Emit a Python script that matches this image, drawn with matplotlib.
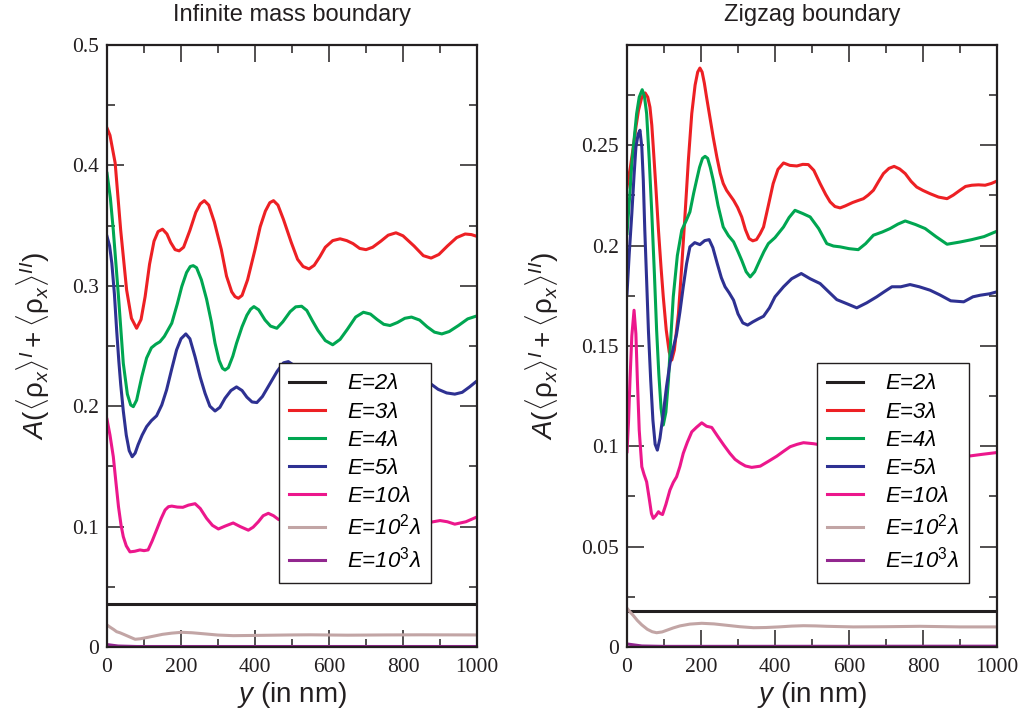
import numpy as np
import matplotlib
matplotlib.use("Agg")
from matplotlib import pyplot as plt
from matplotlib.ticker import MultipleLocator

plt.rcParams['font.family'] = ['Liberation Sans', 'DejaVu Sans']
plt.rcParams['mathtext.fontset'] = 'custom'
plt.rcParams['mathtext.rm'] = 'Liberation Sans'
plt.rcParams['mathtext.it'] = 'Liberation Sans:italic'
plt.rcParams['mathtext.bf'] = 'Liberation Sans:bold'

# Legend labels and colours, shared by both panels
labels = ['E=2λ', 'E=3λ', 'E=4λ', 'E=5λ', 'E=10λ', 'E=10$^2$λ', 'E=10$^3$λ']
colors = ['#231f20', '#ed2024', '#00a651', '#2e3192', '#ec178c', '#c2a5a5', '#92278f']

# ---- Infinite mass boundary (left panel)
inf_x_2 = [0, 1000]
inf_y_2 = [0.0354, 0.0354]
inf_x_3 = [0, 8, 22, 37, 53, 66, 80, 92, 103, 115, 127, 138, 150, 162, 172, 184, 195, 207, 224,
           240, 252, 263, 275, 290, 309, 323, 337, 346, 355, 365, 380, 400, 414, 428, 440, 450,
           462, 477, 498, 515, 530, 546, 560, 575, 590, 610, 630, 648, 665, 683, 700, 718, 740,
           760, 781, 800, 830, 855, 876, 897, 920, 945, 968, 985, 1000]
inf_y_3 = [0.431, 0.425, 0.402, 0.346, 0.2965, 0.273, 0.2647, 0.272, 0.291, 0.318, 0.337, 0.345,
           0.347, 0.343, 0.336, 0.330, 0.329, 0.332, 0.346, 0.361, 0.368, 0.3707, 0.367, 0.353,
           0.330, 0.308, 0.295, 0.291, 0.2896, 0.292, 0.305, 0.330, 0.349, 0.362, 0.369, 0.3707,
           0.367, 0.355, 0.336, 0.322, 0.316, 0.314, 0.317, 0.324, 0.332, 0.3375, 0.339, 0.3375,
           0.335, 0.331, 0.330, 0.332, 0.337, 0.342, 0.344, 0.3415, 0.333, 0.325, 0.323, 0.326,
           0.333, 0.340, 0.343, 0.3425, 0.341]
inf_x_4 = [0, 9, 17, 31, 44, 55, 64, 71, 80, 94, 107, 120, 132, 143, 155, 175, 190, 202, 215,
           225, 233, 242, 255, 269, 282, 292, 303, 312, 319, 328, 340, 350, 365, 378, 388, 397,
           410, 427, 442, 459, 475, 495, 510, 526, 540, 555, 570, 590, 610, 630, 650, 672, 693,
           712, 730, 748, 765, 785, 805, 823, 845, 865, 885, 905, 925, 950, 975, 1000]
inf_y_4 = [0.3934, 0.373, 0.346, 0.291, 0.2356, 0.210, 0.201, 0.1996, 0.205, 0.2245, 0.240,
           0.2485, 0.2515, 0.2535, 0.258, 0.2689, 0.285, 0.2993, 0.311, 0.316, 0.3167, 0.315,
           0.305, 0.289, 0.270, 0.2522, 0.238, 0.2315, 0.230, 0.232, 0.2415, 0.2522, 0.266,
           0.2755, 0.2805, 0.2827, 0.280, 0.2716, 0.2665, 0.2647, 0.270, 0.2785, 0.2825, 0.283,
           0.2795, 0.271, 0.263, 0.2545, 0.251, 0.2555, 0.264, 0.274, 0.278, 0.2765, 0.272,
           0.268, 0.267, 0.2695, 0.273, 0.274, 0.2715, 0.266, 0.2615, 0.260, 0.262, 0.267,
           0.2725, 0.275]
inf_x_5 = [0, 7, 13, 20, 26, 32, 37, 44, 52, 60, 68, 76, 84, 95, 107, 120, 134, 148, 161, 175,
           188, 200, 213, 224, 238, 252, 265, 278, 292, 305, 319, 335, 350, 365, 378, 392, 405,
           420, 441, 460, 477, 490, 510, 540, 570, 600, 630, 660, 690, 720, 750, 780, 805, 830,
           850, 873, 895, 918, 940, 960, 980, 1000]
inf_y_5 = [0.341, 0.333, 0.3187, 0.293, 0.2633, 0.237, 0.218, 0.196, 0.176, 0.163, 0.158, 0.161,
           0.168, 0.176, 0.183, 0.188, 0.192, 0.201, 0.2135, 0.231, 0.2467, 0.256, 0.260, 0.256,
           0.241, 0.224, 0.2107, 0.200, 0.196, 0.199, 0.2066, 0.213, 0.216, 0.213, 0.2075,
           0.2035, 0.203, 0.208, 0.219, 0.229, 0.236, 0.237, 0.233, 0.225, 0.218, 0.216, 0.2185,
           0.222, 0.225, 0.226, 0.2235, 0.221, 0.222, 0.223, 0.222, 0.219, 0.214, 0.211, 0.210,
           0.2115, 0.216, 0.221]
inf_x_10 = [0, 8, 17, 24, 31, 38, 44, 52, 62, 75, 89, 100, 111, 122, 134, 146, 157, 166, 175,
            190, 205, 220, 238, 252, 269, 285, 301, 320, 341, 360, 382, 395, 409, 422, 436, 450,
            463, 490, 520, 560, 600, 640, 680, 720, 760, 800, 840, 873, 900, 920, 940, 970, 1000]
inf_y_10 = [0.189, 0.176, 0.158, 0.137, 0.1165, 0.101, 0.0916, 0.084, 0.079, 0.0795, 0.0806,
            0.080, 0.0806, 0.088, 0.0972, 0.1065, 0.1138, 0.1165, 0.117, 0.1162, 0.116, 0.1178,
            0.119, 0.115, 0.1069, 0.101, 0.098, 0.1005, 0.103, 0.100, 0.097, 0.0995, 0.104,
            0.109, 0.111, 0.109, 0.106, 0.103, 0.103, 0.106, 0.108, 0.106, 0.104, 0.1055, 0.107,
            0.105, 0.103, 0.1035, 0.105, 0.104, 0.102, 0.104, 0.108]
inf_x_100 = [0, 8, 18, 26, 35, 45, 60, 76, 90, 110, 150, 175, 202, 230, 260, 300, 341, 400, 450,
             500, 550, 650, 750, 850, 1000]
inf_y_100 = [0.0183, 0.0165, 0.0145, 0.0127, 0.0118, 0.0105, 0.0085, 0.0064, 0.0068, 0.008,
             0.0105, 0.0115, 0.0122, 0.0118, 0.011, 0.0099, 0.0094, 0.0096, 0.0098, 0.0100,
             0.0101, 0.0098, 0.0100, 0.0101, 0.0100]
inf_x_1000 = [0, 30, 80, 1000]
inf_y_1000 = [0.002, 0.0008, 0.0004, 0.0004]

# ---- Zigzag boundary (right panel)
zig_x_2 = [0, 1000]
zig_y_2 = [0.0179, 0.0179]
zig_x_3 = [0, 9, 17, 24, 31, 40, 49, 56, 62, 67, 71, 78, 85, 92, 98, 106, 114, 121, 128, 134,
           139, 148, 157, 166, 175, 184, 191, 197, 203, 209, 215, 224, 233, 243, 252, 260, 269,
           278, 288, 299, 310, 320, 330, 340, 350, 360, 369, 382, 395, 408, 423, 440, 459, 475,
           490, 505, 522, 537, 549, 562, 576, 590, 610, 625, 639, 652, 666, 680, 693, 708, 722,
           737, 752, 768, 783, 800, 819, 842, 865, 882, 900, 915, 932, 950, 968, 985, 1000]
zig_y_3 = [0.2292, 0.239, 0.2492, 0.259, 0.2674, 0.274, 0.2761, 0.274, 0.269, 0.260, 0.249,
           0.229, 0.2077, 0.189, 0.1745, 0.158, 0.147, 0.143, 0.148, 0.158, 0.1662, 0.190, 0.216,
           0.243, 0.2658, 0.280, 0.2865, 0.2885, 0.2865, 0.281, 0.274, 0.264, 0.254, 0.244,
           0.236, 0.231, 0.2276, 0.2252, 0.2226, 0.219, 0.2143, 0.208, 0.2035, 0.2024, 0.203,
           0.206, 0.2093, 0.220, 0.2309, 0.238, 0.2412, 0.240, 0.2397, 0.2405, 0.2404, 0.2375,
           0.2309, 0.2255, 0.2218, 0.2195, 0.2188, 0.2198, 0.2215, 0.2225, 0.2234, 0.2252,
           0.2276, 0.232, 0.2359, 0.2385, 0.2395, 0.2382, 0.2359, 0.232, 0.2292, 0.2275, 0.2259,
           0.2242, 0.2234, 0.2252, 0.2276, 0.2295, 0.2301, 0.2303, 0.2301, 0.231, 0.2322]
zig_x_4 = [0, 7, 13, 20, 26, 33, 41, 47, 53, 60, 67, 74, 80, 86, 92, 98, 105, 112, 118, 125,
           136, 148, 160, 170, 180, 188, 196, 204, 211, 218, 225, 233, 246, 260, 274, 288, 300,
           310, 322, 333, 345, 359, 370, 382, 400, 423, 438, 454, 475, 495, 518, 540, 558, 576,
           600, 625, 645, 666, 690, 711, 732, 752, 780, 806, 835, 865, 900, 932, 965, 1000]
zig_y_4 = [0.206, 0.224, 0.2409, 0.2545, 0.2658, 0.274, 0.2777, 0.2745, 0.2658, 0.243, 0.216,
           0.186, 0.1579, 0.136, 0.119, 0.1106, 0.117, 0.133, 0.153, 0.1745, 0.195, 0.2077,
           0.2125, 0.2168, 0.226, 0.2326, 0.239, 0.2435, 0.2445, 0.2435, 0.239, 0.2326, 0.220,
           0.2093, 0.205, 0.2019, 0.197, 0.1927, 0.187, 0.1844, 0.187, 0.1927, 0.197, 0.2010,
           0.204, 0.2093, 0.214, 0.2176, 0.216, 0.2143, 0.2085, 0.2010, 0.1998, 0.1994, 0.1985,
           0.1980, 0.201, 0.2052, 0.2068, 0.2085, 0.2107, 0.2123, 0.2105, 0.2085, 0.2045,
           0.2007, 0.2018, 0.2030, 0.2045, 0.2072]
zig_x_5 = [0, 6, 13, 19, 24, 30, 35, 40, 44, 48, 53, 58, 64, 70, 76, 82, 89, 98, 107, 116, 125,
           134, 143, 152, 161, 170, 183, 197, 210, 222, 232, 244, 255, 265, 276, 288, 300, 313,
           326, 340, 355, 369, 385, 400, 423, 445, 471, 495, 522, 545, 567, 595, 621, 648, 675,
           695, 716, 740, 765, 790, 819, 845, 875, 910, 935, 955, 980, 1000]
zig_y_5 = [0.1761, 0.196, 0.216, 0.235, 0.249, 0.2555, 0.2575, 0.249, 0.2326, 0.208, 0.1828,
           0.157, 0.133, 0.113, 0.101, 0.0981, 0.104, 0.1164, 0.130, 0.1413, 0.149, 0.156, 0.167,
           0.1795, 0.191, 0.1994, 0.2015, 0.2005, 0.2025, 0.203, 0.199, 0.191, 0.184, 0.1795,
           0.1765, 0.1728, 0.166, 0.1615, 0.1604, 0.162, 0.1635, 0.1648, 0.169, 0.1745, 0.1795,
           0.1835, 0.1861, 0.1835, 0.1811, 0.177, 0.1731, 0.171, 0.1690, 0.1715, 0.1745, 0.177,
           0.1795, 0.1795, 0.1806, 0.1795, 0.1778, 0.1755, 0.1725, 0.172, 0.1745, 0.1753, 0.176,
           0.1770]
zig_x_10 = [0, 4, 8, 13, 19, 24, 28, 33, 40, 46, 53, 60, 66, 71, 78, 85, 90, 96, 105, 116, 125,
            134, 143, 152, 163, 175, 188, 202, 215, 229, 245, 262, 278, 292, 305, 320, 337, 360,
            382, 405, 423, 441, 460, 477, 504, 530, 560, 590, 620, 660, 700, 740, 780, 820, 860,
            890, 923, 960, 1000]
zig_y_10 = [0.0973, 0.112, 0.133, 0.155, 0.1678, 0.156, 0.133, 0.108, 0.0898, 0.086, 0.0823,
            0.074, 0.0665, 0.0641, 0.0655, 0.0674, 0.0665, 0.066, 0.071, 0.0782, 0.082, 0.0848,
            0.090, 0.0965, 0.102, 0.1072, 0.1095, 0.1117, 0.110, 0.1094, 0.105, 0.1005, 0.0965,
            0.0935, 0.0918, 0.0902, 0.0895, 0.0901, 0.0925, 0.0951, 0.0975, 0.0998, 0.101,
            0.1018, 0.1013, 0.1005, 0.099, 0.0975, 0.096, 0.0952, 0.095, 0.0955, 0.096, 0.095,
            0.094, 0.0945, 0.0951, 0.096, 0.0969]
zig_x_100 = [0, 8, 16, 28, 40, 55, 68, 80, 95, 110, 125, 143, 170, 202, 235, 270, 305, 342, 375,
             410, 445, 477, 510, 540, 611, 700, 792, 900, 1000]
zig_y_100 = [0.0193, 0.0175, 0.0159, 0.0132, 0.011, 0.0088, 0.0076, 0.0071, 0.0075, 0.0085,
             0.0095, 0.0105, 0.0114, 0.0118, 0.0115, 0.0108, 0.0101, 0.0096, 0.0097, 0.0100,
             0.0104, 0.0106, 0.0105, 0.0103, 0.0100, 0.0101, 0.0103, 0.0100, 0.0100]
zig_x_1000 = [0, 40, 100, 1000]
zig_y_1000 = [0.0015, 0.0005, 0.0003, 0.0004]

panels = [
    ("Infinite mass boundary",
     [(inf_x_2, inf_y_2), (inf_x_3, inf_y_3), (inf_x_4, inf_y_4), (inf_x_5, inf_y_5),
      (inf_x_10, inf_y_10), (inf_x_100, inf_y_100), (inf_x_1000, inf_y_1000)],
     0.5, [0, 0.1, 0.2, 0.3, 0.4, 0.5], ['0', '0.1', '0.2', '0.3', '0.4', '0.5'], 0.05,
     [0.1035, 0.0964, 0.3578, 0.8408], (0.466, 0.471)),
    ("Zigzag boundary",
     [(zig_x_2, zig_y_2), (zig_x_3, zig_y_3), (zig_x_4, zig_y_4), (zig_x_5, zig_y_5),
      (zig_x_10, zig_y_10), (zig_x_100, zig_y_100), (zig_x_1000, zig_y_1000)],
     0.3, [0, 0.05, 0.1, 0.15, 0.2, 0.25], ['0', '0.05', '0.1', '0.15', '0.2', '0.25'], 0.025,
     [0.6064, 0.0964, 0.3578, 0.8408], (0.514, 0.471)),
]

fig = plt.figure(figsize=(10.34, 7.16), dpi=100)

for title, series, ymax, yticks, yticklabels, yminor, rect, leg_anchor in panels:
    ax = fig.add_axes(rect)
    for (xs, ys), c, lab in zip(series, colors, labels):
        ax.plot(xs, ys, color=c, lw=2.2, label=lab, solid_joinstyle='round')

    ax.set_xlim(0, 1000)
    ax.set_ylim(0, ymax)
    ax.xaxis.set_major_locator(MultipleLocator(200))
    ax.xaxis.set_minor_locator(MultipleLocator(100))
    ax.set_yticks(yticks)
    ax.set_yticklabels(yticklabels)
    ax.yaxis.set_minor_locator(MultipleLocator(yminor))
    ax.tick_params(which='both', direction='in', top=True, right=True, width=1.1,
                   colors='#231f20', labelcolor='#231f20')
    ax.tick_params(which='major', length=12, labelsize=15.5)
    ax.tick_params(which='minor', length=6)
    ax.tick_params(axis='x', which='major', pad=8)
    ax.tick_params(axis='y', which='major', pad=6)
    for lab in ax.get_xticklabels() + ax.get_yticklabels():
        lab.set_family('Liberation Serif')
    for sp in ax.spines.values():
        sp.set_linewidth(1.6)
        sp.set_color('#231f20')

    ax.set_title(title, fontsize=17, pad=17, color='#231f20')
    ax.set_xlabel(r'$y$ (in nm)', fontsize=20, color='#231f20', labelpad=2)
    ax.set_ylabel(r'$A(\langle\mathrm{\rho}_x\rangle^{I} + \langle\mathrm{\rho}_x\rangle^{II})$',
                  fontsize=20, color='#231f20', labelpad=14)

    leg = ax.legend(loc='upper left', bbox_to_anchor=leg_anchor, fancybox=False,
                    framealpha=1, edgecolor='#231f20', borderaxespad=0,
                    prop={'family': 'Liberation Sans', 'style': 'italic', 'size': 16},
                    handlelength=1.6, handletextpad=1.0, labelspacing=0.32,
                    borderpad=0.45)
    leg.get_frame().set_linewidth(1.0)

fig.savefig('out.png', dpi=100)
